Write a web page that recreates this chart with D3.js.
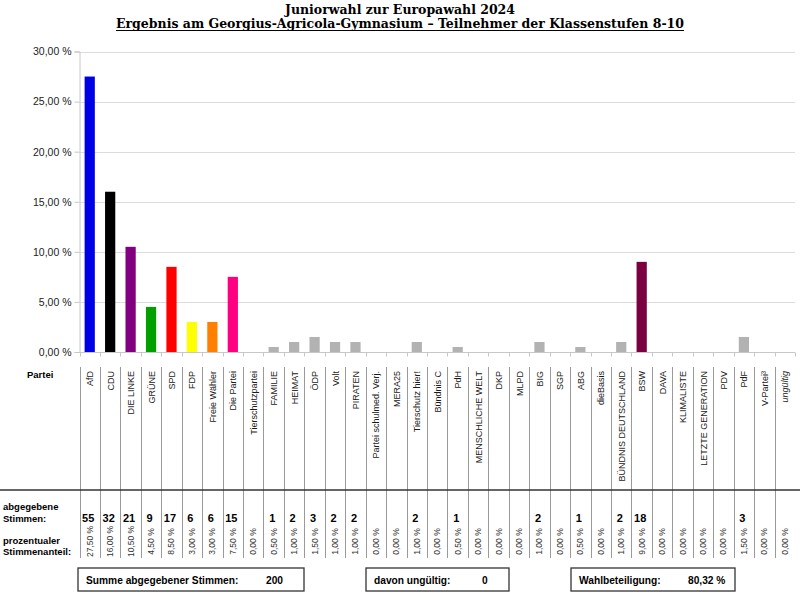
<!DOCTYPE html>
<html>
<head>
<meta charset="utf-8">
<script src="https://cdn.jsdelivr.net/npm/d3@7"></script>
<style>
  body { margin: 0; background: #fff; }
  svg { display: block; font-family: "Liberation Sans", Arial, sans-serif; }
</style>
</head>
<body>
<div id="chart"></div>
<script>
const parties = ["AfD", "CDU", "DIE LINKE", "GRÜNE", "SPD", "FDP", "Freie Wähler", "Die Partei",
  "Tierschutzpartei", "FAMILIE", "HEIMAT", "ÖDP", "Volt", "PIRATEN", "Partei schulmed. Verj.",
  "MERA25", "Tierschutz hier!", "Bündnis C", "PdH", "MENSCHLICHE WELT", "DKP", "MLPD", "BIG",
  "SGP", "ABG", "dieBasis", "BÜNDNIS DEUTSCHLAND", "BSW", "DAVA", "KLIMALISTE",
  "LETZTE GENERATION", "PDV", "PdF", "V-Partei³", "ungültig"];
const votes = [55, 32, 21, 9, 17, 6, 6, 15, null, 1, 2, 3, 2, 2, null, null, 2, null, 1, null,
  null, null, 2, null, 1, null, 2, 18, null, null, null, null, 3, null, null];
const shares = [27.5, 16, 10.5, 4.5, 8.5, 3, 3, 7.5, 0, 0.5, 1, 1.5, 1, 1, 0, 0, 1, 0, 0.5, 0,
  0, 0, 1, 0, 0.5, 0, 1, 9, 0, 0, 0, 0, 1.5, 0, 0];
const colors = ["#0000e6", "#000000", "#800080", "#00a000", "#ff0000", "#ffff00", "#ff8000", "#ff0080",
  "#b2b2b2", "#b2b2b2", "#b2b2b2", "#b2b2b2", "#b2b2b2", "#b2b2b2", "#b2b2b2", "#b2b2b2", "#b2b2b2",
  "#b2b2b2", "#b2b2b2", "#b2b2b2", "#b2b2b2", "#b2b2b2", "#b2b2b2", "#b2b2b2", "#b2b2b2", "#b2b2b2",
  "#b2b2b2", "#7a0040", "#b2b2b2", "#b2b2b2", "#b2b2b2", "#b2b2b2", "#b2b2b2", "#b2b2b2", "#b2b2b2"];
const yTicks = [0, 5, 10, 15, 20, 25, 30];
const summary = [
  { label: "Summe abgegebener Stimmen:", value: "200" },
  { label: "davon ungültig:", value: "0" },
  { label: "Wahlbeteiligung:", value: "80,32 %" }
];

const width = 800, height = 593;
const svg = d3.select("#chart").append("svg")
  .attr("width", width).attr("height", height);

const fmt = v => v.toFixed(2).replace(".", ",") + " %";

// titles
svg.append("text")
  .attr("x", 400).attr("y", 14)
  .attr("text-anchor", "middle")
  .style("font-family", "'DejaVu Serif', serif")
  .style("font-weight", "bold")
  .style("font-size", "13px")
  .attr("textLength", 230).attr("lengthAdjust", "spacingAndGlyphs")
  .text("Juniorwahl zur Europawahl 2024");
svg.append("text")
  .attr("x", 400).attr("y", 28)
  .attr("text-anchor", "middle")
  .style("font-family", "'DejaVu Serif', serif")
  .style("font-weight", "bold")
  .style("font-size", "13px")
  .attr("textLength", 568).attr("lengthAdjust", "spacingAndGlyphs")
  .text("Ergebnis am Georgius-Agricola-Gymnasium – Teilnehmer der Klassenstufen 8-10");
svg.append("line")
  .attr("x1", 116).attr("x2", 684).attr("y1", 30.5).attr("y2", 30.5)
  .attr("stroke", "#000").attr("stroke-width", 1);

const x = d3.scaleBand().domain(parties).range([79.5, 795]).padding(0);
const y = d3.scaleLinear().domain([0, 30]).range([352, 51.5]);

// grid
svg.append("g").selectAll("line").data(yTicks.filter(d => d > 0)).join("line")
  .attr("x1", 79.5).attr("x2", 795)
  .attr("y1", d => Math.round(y(d)) + 0.5).attr("y2", d => Math.round(y(d)) + 0.5)
  .attr("stroke", "#dcdcdc");

// y axis
const yAxis = svg.append("g")
  .attr("transform", "translate(79.5,0)")
  .call(d3.axisLeft(y).tickValues(yTicks).tickFormat(fmt).tickSize(5).tickPadding(3));
yAxis.select(".domain").attr("stroke", "#c8c8c8");
yAxis.selectAll(".tick line").attr("stroke", "#c8c8c8");
yAxis.selectAll("text").style("font-size", "10.5px").attr("fill", "#222")
  .style("font-family", "'Liberation Sans', Arial, sans-serif");

// x axis baseline + ticks
const xAxis = svg.append("g")
  .attr("transform", "translate(0,352.5)");
xAxis.append("line").attr("x1", 79.5).attr("x2", 795).attr("stroke", "#c8c8c8");
xAxis.selectAll(".xt").data(parties.concat(["_end"])).join("line")
  .attr("class", "xt")
  .attr("x1", (d, i) => Math.round(x.range()[0] + i * x.step()) + 0.5)
  .attr("x2", (d, i) => Math.round(x.range()[0] + i * x.step()) + 0.5)
  .attr("y1", 0).attr("y2", 4)
  .attr("stroke", "#c8c8c8");

// bars
const bw = x.bandwidth() * 0.5;
svg.append("g").selectAll("rect").data(parties).join("rect")
  .attr("x", d => x(d) + (x.bandwidth() - bw) / 2)
  .attr("width", bw)
  .attr("y", (d, i) => y(shares[i]))
  .attr("height", (d, i) => y(0) - y(shares[i]))
  .attr("fill", (d, i) => colors[i]);

// table
const table = svg.append("g");
table.selectAll(".vl").data(parties).join("line")
  .attr("class", "vl")
  .attr("x1", d => Math.round(x(d)) + 0.5).attr("x2", d => Math.round(x(d)) + 0.5)
  .attr("y1", 367).attr("y2", 558)
  .attr("stroke", "#9a9a9a");
table.append("line")
  .attr("x1", 0).attr("x2", 800).attr("y1", 490).attr("y2", 490)
  .attr("stroke", "#333").attr("stroke-width", 1.4);

table.append("text").attr("x", 27).attr("y", 378)
  .style("font-weight", "bold").style("font-size", "9.5px").text("Partei");

table.selectAll(".pn").data(parties).join("text")
  .attr("class", "pn")
  .attr("transform", d => `translate(${x(d) + x.bandwidth() / 2 + 3.5},371) rotate(-90)`)
  .attr("text-anchor", "end")
  .style("font-size", "9px")
  .style("font-style", d => d === "ungültig" ? "italic" : "normal")
  .attr("fill", "#1a1a1a")
  .text(d => d);

table.append("text").attr("x", 3).attr("y", 510)
  .style("font-weight", "bold").style("font-size", "9.5px").text("abgegebene");
table.append("text").attr("x", 3).attr("y", 521.5)
  .style("font-weight", "bold").style("font-size", "9.5px").text("Stimmen:");
table.append("text").attr("x", 3).attr("y", 544)
  .style("font-weight", "bold").style("font-size", "9.5px").text("prozentualer");
table.append("text").attr("x", 3).attr("y", 555)
  .style("font-weight", "bold").style("font-size", "9.5px").text("Stimmenanteil:");

table.selectAll(".vt").data(parties).join("text")
  .attr("class", "vt")
  .attr("x", d => x(d) + x.bandwidth() / 2 - 1.5)
  .attr("y", 522)
  .attr("text-anchor", "middle")
  .style("font-weight", "bold").style("font-size", "11px")
  .text((d, i) => votes[i] == null ? "" : votes[i]);

table.selectAll(".st").data(parties).join("text")
  .attr("class", "st")
  .attr("transform", d => `translate(${x(d) + x.bandwidth() / 2 + 3},541.5) rotate(-90)`)
  .attr("text-anchor", "middle")
  .style("font-size", "8.5px")
  .attr("fill", "#333")
  .text((d, i) => fmt(shares[i]));

// summary boxes
const boxes = [
  { x: 78, w: 226, vx: 266 },
  { x: 366, w: 143, vx: 482 },
  { x: 571, w: 164, vx: 688 }
];
boxes.forEach((b, i) => {
  svg.append("rect").attr("x", b.x).attr("y", 568).attr("width", b.w).attr("height", 23)
    .attr("fill", "none").attr("stroke", "#333").attr("stroke-width", 1.3);
  svg.append("text").attr("x", b.x + 8).attr("y", 583.5)
    .style("font-weight", "bold").style("font-size", "10.2px").text(summary[i].label);
  svg.append("text").attr("x", b.vx).attr("y", 583.5)
    .style("font-weight", "bold").style("font-size", "10.2px").text(summary[i].value);
});
</script>
</body>
</html>
